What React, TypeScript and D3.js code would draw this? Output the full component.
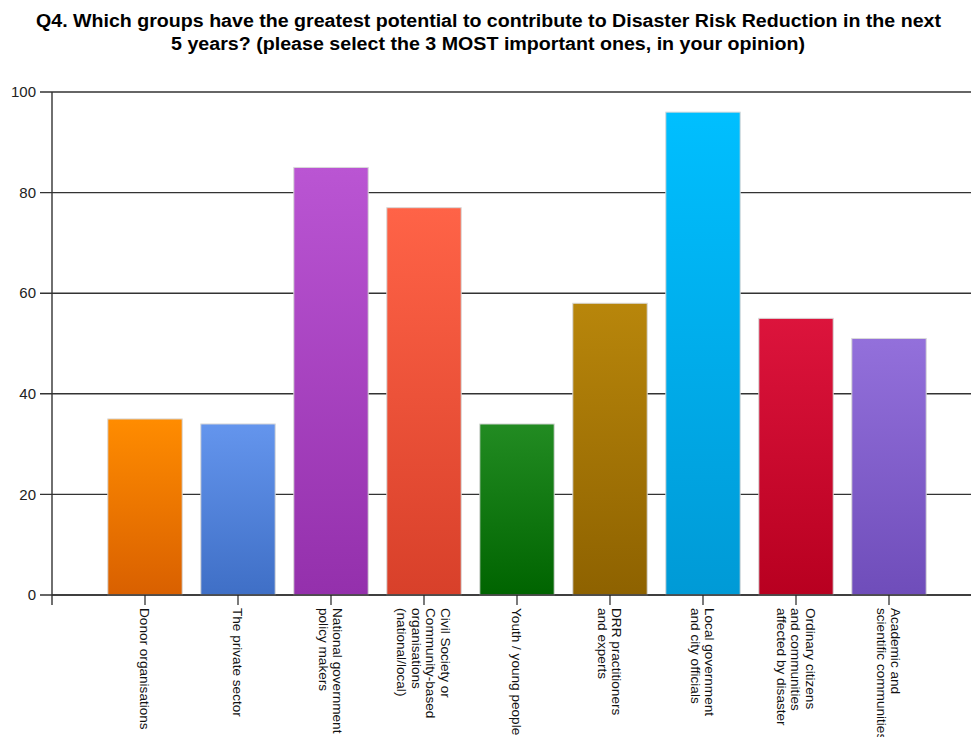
import React from "react";
import * as d3 from "d3";

const categories = [
  ["Donor organisations"],
  ["The private sector"],
  ["National government", "policy makers"],
  ["Civil Society or", "Community-based", "organisations", "(national/local)"],
  ["Youth / young people"],
  ["DRR practitioners", "and experts"],
  ["Local government", "and city officials"],
  ["Ordinary citizens", "and communities", "affected by disaster"],
  ["Academic and", "scientific communities"],
];
const values = [35, 34, 85, 77, 34, 58, 96, 55, 51];
const topColors = ["#ff8c00", "#6495ed", "#ba55d3", "#ff6347", "#228b22", "#b8860b", "#00bfff", "#dc143c", "#9370db"];
const bottomColors = ["#d96000", "#3f6fc6", "#9430ac", "#d8402a", "#006400", "#8e6200", "#009ad6", "#b80020", "#6f4dba"];
const yTicks = [0, 20, 40, 60, 80, 100];
const titleLines = [
  "Q4. Which groups have the greatest potential to contribute to Disaster Risk Reduction in the next",
  "5 years? (please select the 3 MOST important ones, in your opinion)",
];

const W = 971,
  H = 737;
const margin = { top: 92, right: 0, bottom: 142, left: 52 };

const App = () => {
  const x = d3
    .scaleBand<number>()
    .domain(d3.range(categories.length))
    .range([98.5, 935.5])
    .paddingInner(0.2)
    .paddingOuter(0.1);

  const y = d3
    .scaleLinear()
    .domain([0, 100])
    .range([H - margin.bottom, margin.top]);

  const y0 = y(0);
  const lh = 14.5;

  return (
    <svg
      width={W}
      height={H}
      style={{ position: "absolute", top: 0, left: 0, fontFamily: "Liberation Sans, Arial, sans-serif" }}
    >
      <defs>
        {topColors.map((c, i) => (
          <linearGradient key={i} id={`g${i}`} x1="0" y1="0" x2="0" y2="1">
            <stop offset="0%" stopColor={c} />
            <stop offset="100%" stopColor={bottomColors[i]} />
          </linearGradient>
        ))}
      </defs>
      <rect width={W} height={H} fill="#fff" />

      <text x={488.5} y={27} textAnchor="middle" fontSize={18} fontWeight="bold" fill="#000" textLength={905} lengthAdjust="spacingAndGlyphs">
        {titleLines[0]}
      </text>
      <text x={488} y={50} textAnchor="middle" fontSize={18} fontWeight="bold" fill="#000" textLength={634} lengthAdjust="spacingAndGlyphs">
        {titleLines[1]}
      </text>

      {yTicks.map((t) => (
        <g key={t}>
          <line x1={40} x2={W} y1={y(t)} y2={y(t)} stroke="#333" strokeWidth={1.4} />
          <text x={36} y={y(t)} dy="0.35em" textAnchor="end" fontSize={15} fill="#222">
            {t}
          </text>
        </g>
      ))}
      <line x1={margin.left} x2={margin.left} y1={margin.top} y2={y0 + 10} stroke="#333" strokeWidth={1.4} />

      {values.map((v, i) => (
        <rect
          key={i}
          x={x(i)}
          y={y(v)}
          width={x.bandwidth()}
          height={y0 - y(v)}
          fill={`url(#g${i})`}
          stroke="#d8d8d8"
          strokeWidth={1}
        />
      ))}

      <line x1={margin.left} x2={W} y1={y0} y2={y0} stroke="#333" strokeWidth={1.4} />

      {categories.map((lines, i) => {
        const cx = (x(i) as number) + x.bandwidth() / 2;
        return (
          <g key={i}>
            <line x1={cx} x2={cx} y1={y0} y2={y0 + 10} stroke="#222" strokeWidth={1.2} />
            {lines.map((s, j) => {
              const off = ((lines.length - 1) / 2 - j) * lh;
              return (
                <text
                  key={j}
                  transform={`translate(${cx + off},${y0 + 13}) rotate(90)`}
                  dy="0.35em"
                  fontSize={13.6}
                  fill="#111"
                >
                  {s}
                </text>
              );
            })}
          </g>
        );
      })}
    </svg>
  );
};

export default App;
